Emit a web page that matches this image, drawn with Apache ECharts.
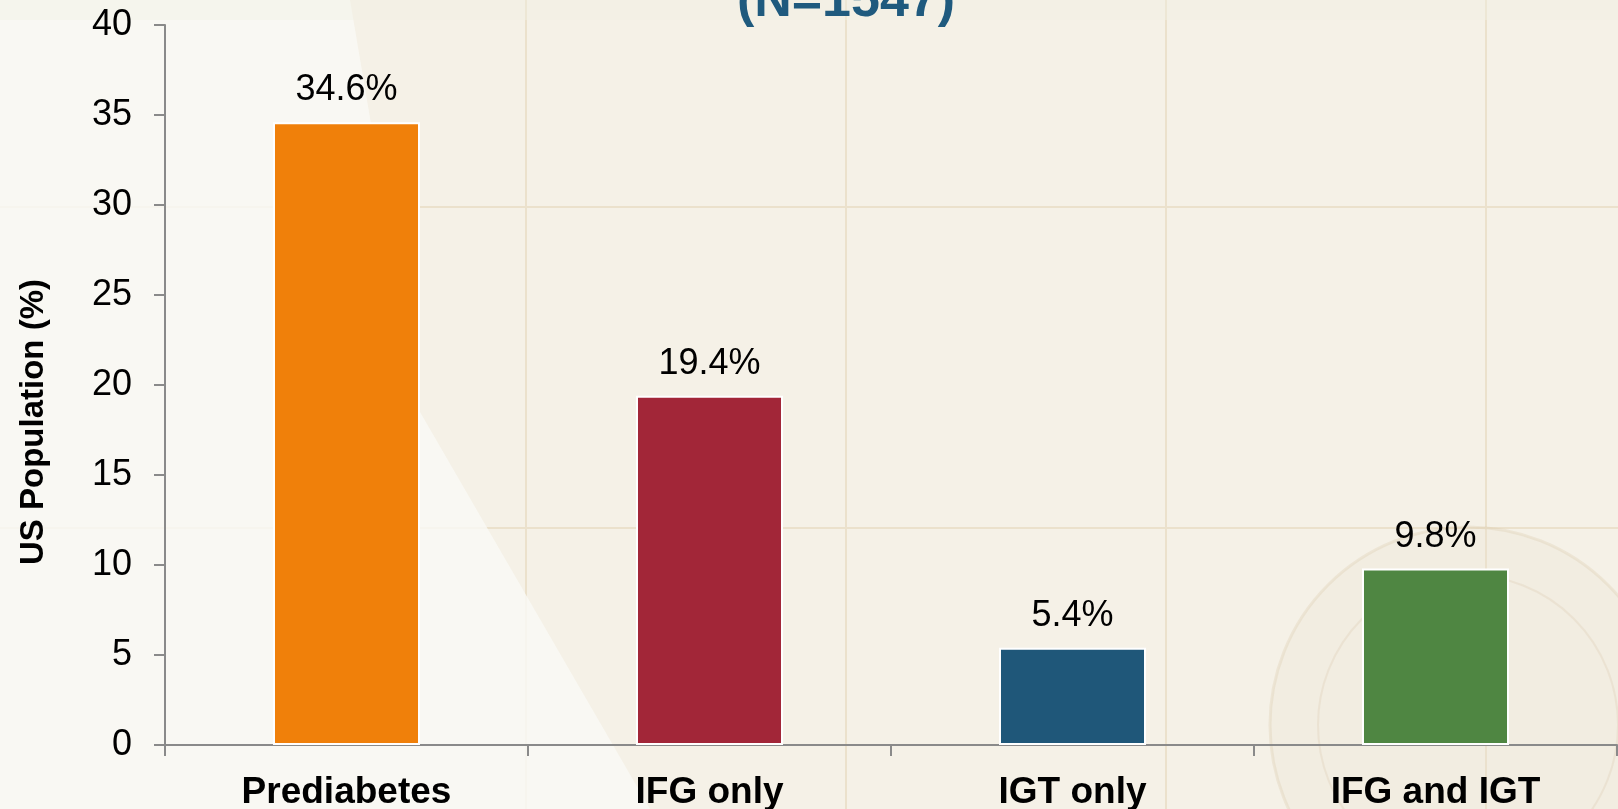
<!DOCTYPE html>
<html>
<head>
<meta charset="utf-8">
<script src="https://cdn.jsdelivr.net/npm/echarts@6/dist/echarts.min.js"></script>
<style>
html,body{margin:0;padding:0;background:#F5F1E7;}
#chart{width:1618px;height:809px;}
</style>
</head>
<body>
<div id="chart"></div>
<script>
const categories = ['Prediabetes', 'IFG only', 'IGT only', 'IFG and IGT'];
const values = [34.6, 19.4, 5.4, 9.8];
const barColors = ['#F0800A', '#A22638', '#1F5779', '#4F8642'];
const yTicks = [0, 5, 10, 15, 20, 25, 30, 35, 40];
const titleText = '(N=1547)';
const yAxisTitle = 'US Population (%)';

const chart = echarts.init(document.getElementById('chart'));
const FONT = '"Liberation Sans", Arial, sans-serif';

const bgLine = '#EBE1CC';
const decorations = [
  {type:'rect', z:-10, silent:true, shape:{x:0,y:0,width:1618,height:809}, style:{fill:'#F5F1E7'}},
  {type:'line', z:-9, silent:true, shape:{x1:526,y1:0,x2:526,y2:809}, style:{stroke:bgLine,lineWidth:2}},
  {type:'line', z:-9, silent:true, shape:{x1:846,y1:0,x2:846,y2:809}, style:{stroke:bgLine,lineWidth:2}},
  {type:'line', z:-9, silent:true, shape:{x1:1166,y1:0,x2:1166,y2:809}, style:{stroke:bgLine,lineWidth:2}},
  {type:'line', z:-9, silent:true, shape:{x1:1486,y1:0,x2:1486,y2:809}, style:{stroke:bgLine,lineWidth:2}},
  {type:'line', z:-9, silent:true, shape:{x1:0,y1:207,x2:1618,y2:207}, style:{stroke:bgLine,lineWidth:2}},
  {type:'line', z:-9, silent:true, shape:{x1:0,y1:528,x2:1618,y2:528}, style:{stroke:bgLine,lineWidth:2}},
  {type:'circle', z:-8, silent:true, shape:{cx:1468,cy:725,r:198}, style:{fill:'rgba(236,226,208,0.25)',stroke:'rgba(214,196,166,0.28)',lineWidth:3}},
  {type:'circle', z:-8, silent:true, shape:{cx:1468,cy:725,r:150}, style:{fill:'none',stroke:'rgba(214,196,166,0.25)',lineWidth:2}},
  {type:'polygon', z:-7, silent:true, shape:{points:[[0,0],[350,0],[420,412],[650,809],[0,809]]}, style:{fill:'rgba(250,250,246,0.8)'}},
  {type:'rect', z:-7, silent:true, shape:{x:0,y:0,width:1618,height:20}, style:{fill:'rgba(240,240,228,0.4)'}},
  {type:'text', z:10, silent:true, x:846, y:28,
    style:{text:titleText, fill:'#1F5A7E', font:'bold 52px ' + FONT, textAlign:'center', textVerticalAlign:'bottom'}},
  {type:'text', z:10, silent:true, x:34, y:422, rotation:Math.PI/2,
    style:{text:yAxisTitle, fill:'#000', font:'bold 33px ' + FONT, textAlign:'center', textVerticalAlign:'middle'}}
];

chart.setOption({
  backgroundColor: 'transparent',
  animation: false,
  graphic: decorations,
  grid: {left:165, right:1, top:25, bottom:64, containLabel:false, outerBoundsMode:'none'},
  xAxis: {
    type:'category',
    data: categories,
    axisLine:{show:true, lineStyle:{color:'#8A8A8A', width:2}},
    axisTick:{show:true, length:11, lineStyle:{color:'#8A8A8A', width:2}},
    axisLabel:{color:'#000', fontFamily:FONT, fontSize:37, fontWeight:'bold', margin:29},
    splitLine:{show:false}
  },
  yAxis: {
    type:'value',
    min: yTicks[0],
    max: yTicks[yTicks.length-1],
    interval: 5,
    axisLine:{show:true, lineStyle:{color:'#8A8A8A', width:2}},
    axisTick:{show:true, length:11, lineStyle:{color:'#8A8A8A', width:2}},
    axisLabel:{color:'#000', fontFamily:FONT, fontSize:36, margin:33, padding:[5,0,0,0]},
    splitLine:{show:false}
  },
  series: [{
    type:'bar',
    data: values.map((v,i)=>({value:v, itemStyle:{color:barColors[i]}})),
    barWidth:'40.5%',
    itemStyle:{borderColor:'#FFFFFF', borderWidth:2},
    label:{show:true, position:'top', distance:14, color:'#000', fontFamily:FONT, fontSize:36,
      formatter: p => p.value.toFixed(1) + '%'}
  }]
});
</script>
</body>
</html>
